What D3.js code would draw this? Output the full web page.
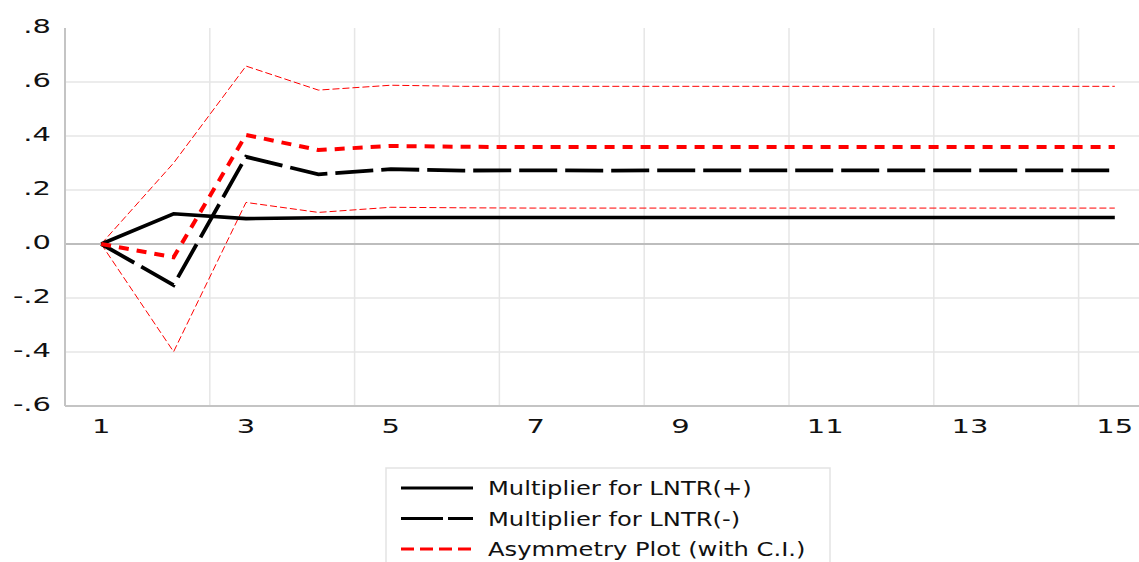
<!DOCTYPE html>
<html>
<head>
<meta charset="utf-8">
<script src="https://cdn.jsdelivr.net/npm/d3@7"></script>
<style>
  body { margin: 0; background: #fff; }
  text { font-family: "DejaVu Sans", Verdana, sans-serif; fill: #111; }
</style>
</head>
<body>
<div id="chart"></div>
<script>
// data
var periods = [1, 2, 3, 4, 5, 6, 7, 8, 9, 10, 11, 12, 13, 14, 15];
var lntrPos = [0, 0.112, 0.094, 0.097, 0.098, 0.098, 0.098, 0.098, 0.098, 0.098, 0.098, 0.098, 0.098, 0.098, 0.098];
var lntrNeg = [0, -0.152, 0.323, 0.258, 0.277, 0.272, 0.273, 0.272, 0.273, 0.273, 0.273, 0.273, 0.273, 0.273, 0.273];
var asym    = [0, -0.049, 0.404, 0.348, 0.363, 0.360, 0.359, 0.359, 0.359, 0.359, 0.359, 0.359, 0.359, 0.359, 0.359];
var upperCI = [0, 0.300, 0.659, 0.570, 0.588, 0.584, 0.584, 0.584, 0.584, 0.584, 0.584, 0.584, 0.584, 0.584, 0.584];
var lowerCI = [0, -0.399, 0.154, 0.117, 0.136, 0.134, 0.133, 0.133, 0.133, 0.133, 0.133, 0.133, 0.133, 0.133, 0.133];
var yTicks = [-0.6, -0.4, -0.2, 0, 0.2, 0.4, 0.6, 0.8];
var xLabels = [1, 3, 5, 7, 9, 11, 13, 15];
var legendNames = ["Multiplier for LNTR(+)", "Multiplier for LNTR(-)", "Asymmetry Plot (with C.I.)"];

var width = 1139, height = 562;
var plotLeft = 65, plotTop = 28, plotBottom = 406;
var STRETCH = 1.45; // tick text in the picture is drawn wide

var svg = d3.select("#chart").append("svg")
  .attr("width", width)
  .attr("height", height);

// x: one band per period, labels sit at band centres
var x = d3.scaleBand()
  .domain(periods)
  .range([plotLeft, plotLeft + 15 * 72.4]);
var xc = d => x(d) + x.bandwidth() / 2;

var y = d3.scaleLinear()
  .domain([-0.6, 0.8])
  .range([plotBottom, plotTop]);

// horizontal gridlines
svg.append("g").selectAll("line")
  .data(yTicks.filter(d => d !== 0 && d !== 0.8 && d !== -0.6))
  .enter().append("line")
    .attr("x1", plotLeft).attr("x2", width)
    .attr("y1", d => y(d)).attr("y2", d => y(d))
    .attr("stroke", "#e6e6e6").attr("stroke-width", 1.5);

// vertical gridlines between every other band
svg.append("g").selectAll("line")
  .data(periods.filter(d => d % 2 === 1 && d > 1))
  .enter().append("line")
    .attr("x1", d => x(d)).attr("x2", d => x(d))
    .attr("y1", plotTop).attr("y2", plotBottom)
    .attr("stroke", "#e6e6e6").attr("stroke-width", 1.5);

// zero line
svg.append("line")
  .attr("x1", plotLeft).attr("x2", width)
  .attr("y1", y(0)).attr("y2", y(0))
  .attr("stroke", "#bdbdbd").attr("stroke-width", 2);

// axis lines
svg.append("line")
  .attr("x1", plotLeft).attr("x2", plotLeft)
  .attr("y1", plotTop).attr("y2", plotBottom)
  .attr("stroke", "#c4c4c4").attr("stroke-width", 2);
svg.append("line")
  .attr("x1", plotLeft).attr("x2", width)
  .attr("y1", plotBottom).attr("y2", plotBottom)
  .attr("stroke", "#c4c4c4").attr("stroke-width", 2);

// y tick labels like ".8" and "-.6" (plain hyphen, no leading zero)
var fmt = d => d3.format(".1f")(d).replace("\u2212", "-").replace("0.", ".");
svg.append("g").selectAll("text")
  .data(yTicks)
  .enter().append("text")
    .attr("transform", d => `translate(51, ${y(d) - 2.5}) scale(${STRETCH},1)`)
    .attr("text-anchor", "end")
    .attr("dy", "0.35em")
    .style("font-size", "20px")
    .text(fmt);

// x tick labels
svg.append("g").selectAll("text")
  .data(xLabels)
  .enter().append("text")
    .attr("transform", d => `translate(${xc(d)}, 426) scale(${STRETCH},1)`)
    .attr("text-anchor", "middle")
    .attr("dy", "0.35em")
    .style("font-size", "20px")
    .text(d => d);

// series
var series = [
  { values: upperCI, color: "#ff0000", width: 1, dash: "7,3" },
  { values: lowerCI, color: "#ff0000", width: 1, dash: "7,3" },
  { values: lntrPos, color: "#000000", width: 3.6, dash: null },
  { values: lntrNeg, color: "#000000", width: 3.8, dash: "38,8" },
  { values: asym,    color: "#ff0000", width: 4, dash: "10,8" }
];

var line = d3.line()
  .x((d, i) => xc(periods[i]))
  .y(d => y(d));

svg.append("g").selectAll("path")
  .data(series)
  .enter().append("path")
    .attr("d", d => line(d.values))
    .attr("fill", "none")
    .attr("stroke", d => d.color)
    .attr("stroke-width", d => d.width)
    .attr("stroke-dasharray", d => d.dash)
    .attr("stroke-linejoin", "miter");

// legend
var legendStyles = [
  { color: "#000000", dash: null },
  { color: "#000000", dash: "42,5" },
  { color: "#ff0000", dash: "13,6" }
];

svg.append("rect")
  .attr("x", 386).attr("y", 468)
  .attr("width", 444).attr("height", 120)
  .attr("fill", "#fff")
  .attr("stroke", "#e3e3e3").attr("stroke-width", 1.5);

var legend = svg.append("g").selectAll("g")
  .data(legendNames)
  .enter().append("g")
    .attr("transform", (d, i) => `translate(401, ${488 + i * 30.5})`);

legend.append("line")
  .attr("x1", 0).attr("x2", 72)
  .attr("stroke", (d, i) => legendStyles[i].color)
  .attr("stroke-width", 3)
  .attr("stroke-dasharray", (d, i) => legendStyles[i].dash);

legend.append("text")
  .attr("transform", `translate(87, 0) scale(1.21,1)`)
  .attr("dy", "0.35em")
  .style("font-size", "20px")
  .text(d => d);
</script>
</body>
</html>
